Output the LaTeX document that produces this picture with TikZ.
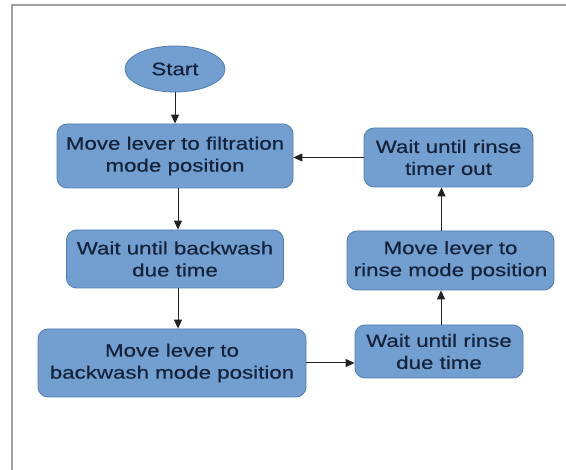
\documentclass[tikz,border=0pt]{standalone}
\usepackage{fontspec}
\newfontfamily\boxfont[FakeStretch=1.24,FakeBold=0.4]{Liberation Sans}
\usetikzlibrary{shapes.geometric,arrows.meta,calc}
\definecolor{boxfill}{HTML}{729FCF}
\definecolor{boxline}{HTML}{4F7DB5}
\definecolor{boxtext}{HTML}{14223A}
\definecolor{framegray}{HTML}{A0A0A0}
\definecolor{arrowgray}{HTML}{222222}
\tikzset{
  flowbox/.style={draw=boxline, line width=0.8pt, fill=boxfill, rounded corners=10pt,
    text=boxtext, align=center, inner sep=0pt,
    font=\boxfont\fontsize{18}{22}\selectfont},
  startnode/.style={ellipse, draw=boxline, line width=0.8pt, fill=boxfill, text=boxtext,
    inner sep=0pt, font=\boxfont\fontsize{18}{22}\selectfont},
  flowarrow/.style={draw=arrowgray, line width=1pt, -{Triangle[length=9pt,width=8pt]}}
}
\begin{document}
\begin{tikzpicture}[x=1pt,y=-1pt]
\useasboundingbox (0,0) rectangle (566,470);
\fill[white] (0,0) rectangle (566,470);
\draw[framegray, line width=2pt] (12,470) -- (12,5) -- (566,5);
\node[startnode, minimum width=100pt, minimum height=46pt] (start) at (175,69) {Start};
\node[flowbox, minimum width=236pt, minimum height=64pt] (b1) at (175,156) {Move lever to filtration\\mode position};
\node[flowbox, minimum width=217pt, minimum height=58pt] (b2) at (175,259) {Wait until backwash\\due time};
\node[flowbox, minimum width=268pt, minimum height=68pt] (b3) at (172,363) {Move lever to\\backwash mode position};
\node[flowbox, minimum width=168pt, minimum height=53pt] (b4) at (439,351.5) {Wait until rinse\\due time};
\node[flowbox, minimum width=207pt, minimum height=59pt] (b5) at (450.5,260.5) {Move lever to\\rinse mode position};
\node[flowbox, minimum width=169pt, minimum height=59pt] (b6) at (448.5,157.5) {Wait until rinse\\timer out};
\draw[flowarrow] (start.south) -- (b1.north);
\draw[flowarrow] ([xshift=3pt]b1.south) -- ([xshift=3pt]b1.south |- b2.north);
\draw[flowarrow] ([xshift=3pt]b2.south) -- ([xshift=3pt]b2.south |- b3.north);
\draw[flowarrow] (b3.east) -- (b3.east -| b4.west);
\draw[flowarrow] ([xshift=2pt]b4.north) -- ([xshift=2pt]b4.north |- b5.south);
\draw[flowarrow] ([xshift=-9pt]b5.north) -- ([xshift=-9pt]b5.north |- b6.south);
\draw[flowarrow] (b6.west) -- (b6.west -| b1.east);
\end{tikzpicture}
\end{document}
